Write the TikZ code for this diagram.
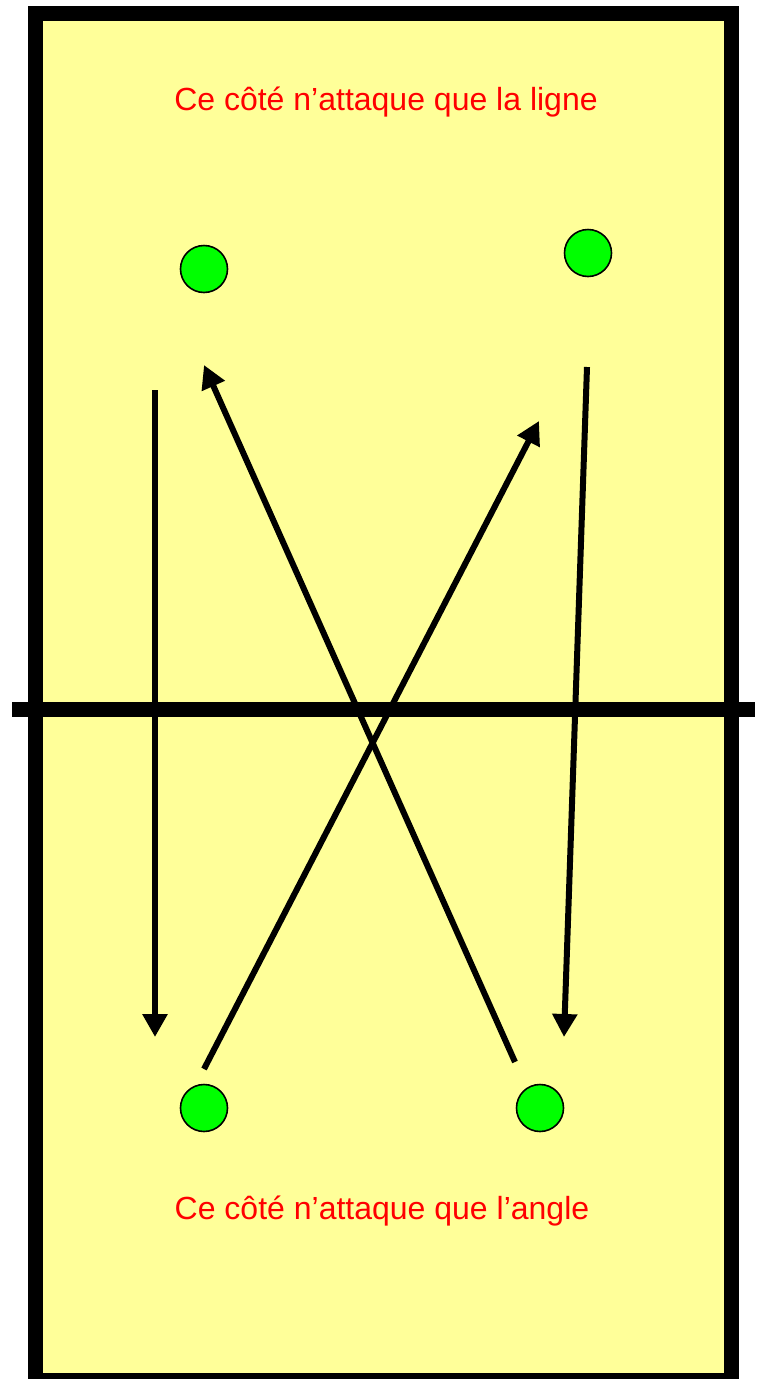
\documentclass[tikz,border=0pt]{standalone}
\usepackage{fontspec}
\setmainfont{Liberation Sans}
\usetikzlibrary{arrows.meta}
\definecolor{court}{RGB}{255,255,153}
\definecolor{player}{RGB}{0,255,0}
\begin{document}
\begin{tikzpicture}[x=1pt,y=-1pt,
  player/.style={circle,draw=black,line width=1.6pt,fill=player,minimum size=47pt,inner sep=0pt},
  move/.style={line width=6pt,-{Triangle[length=23pt,width=24pt]}},
  label/.style={text=red,font=\fontsize{32}{36}\selectfont}]
\useasboundingbox (0,0) rectangle (761,1379);
\fill[white] (0,0) rectangle (761,1379);
\draw[line width=15pt,fill=court] (35.5,13) rectangle (731,1380.5);
\draw[line width=15pt] (12,709.5) -- (755,709.5);
\node[label] (top) at (386,102) {Ce côté n’attaque que la ligne};
\node[label] (bot) at (382,1211) {Ce côté n’attaque que l’angle};
\node[player] (p1) at (204,269) {};
\node[player] (p2) at (588,253) {};
\node[player] (p3) at (204,1108) {};
\node[player] (p4) at (540,1108) {};
\coordinate (a1s) at (155,390); \coordinate (a1e) at (155,1037);
\coordinate (a2s) at (204,1069); \coordinate (a2e) at (539,421);
\coordinate (a3s) at (515,1062); \coordinate (a3e) at (204,365);
\coordinate (a4s) at (587,367); \coordinate (a4e) at (564,1037);
\draw[move] (a1s) -- (a1e);
\draw[move] (a2s) -- (a2e);
\draw[move] (a3s) -- (a3e);
\draw[move] (a4s) -- (a4e);
\end{tikzpicture}
\end{document}
